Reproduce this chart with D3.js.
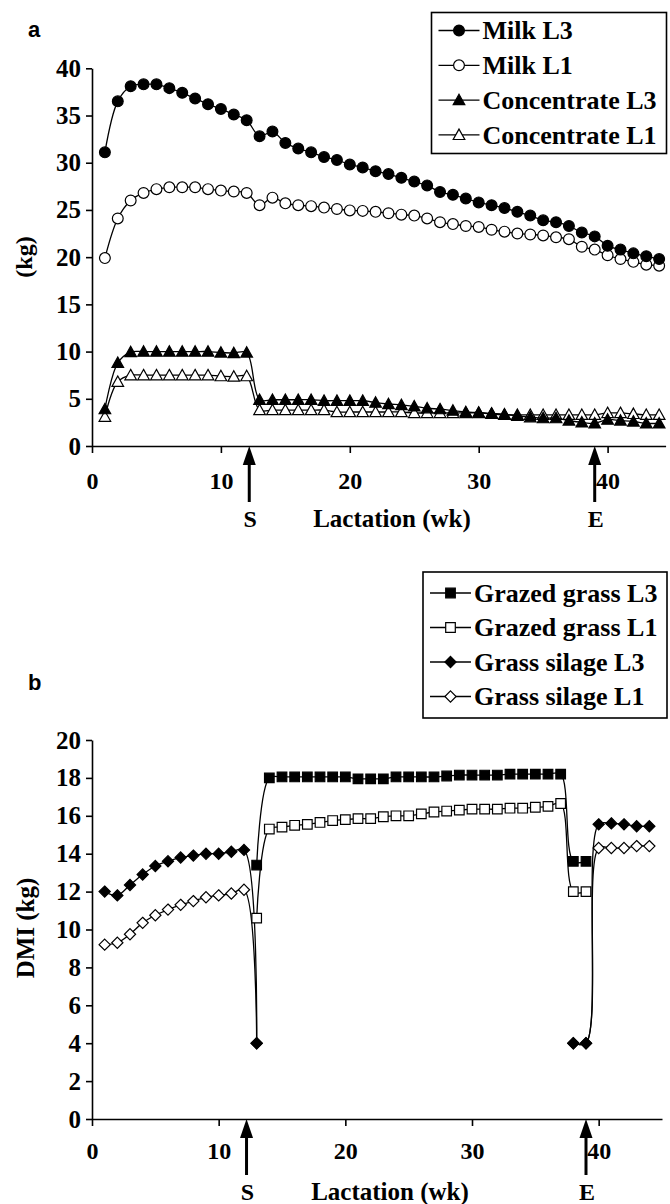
<!DOCTYPE html>
<html>
<head>
<meta charset="utf-8">
<script src="https://cdn.jsdelivr.net/npm/d3@7"></script>
<style>
  body { margin: 0; background: #fff; }
  svg text { font-family: "Liberation Serif", "Times New Roman", serif; font-weight: bold; fill: #000; }
</style>
</head>
<body>
<script>
// lactation week (x categories), same for both panels
const weeks = [1,2,3,4,5,6,7,8,9,10,11,12,13,14,15,16,17,18,19,20,21,22,
               23,24,25,26,27,28,29,30,31,32,33,34,35,36,37,38,39,40,41,42,43,44];

// panel a (kg)
const milkL3 = [31.1,36.5,38.1,38.3,38.3,37.9,37.4,36.8,36.2,35.7,35.1,34.5,32.8,33.3,32.1,31.5,31.1,30.6,30.3,29.8,29.5,29.1,
                28.8,28.4,28.0,27.6,26.9,26.6,26.2,25.8,25.5,25.2,24.8,24.4,23.9,23.7,23.3,22.6,22.2,21.2,20.8,20.4,20.1,19.8];
const milkL1 = [19.9,24.1,26.0,26.8,27.2,27.4,27.4,27.4,27.2,27.05,26.95,26.8,25.5,26.3,25.7,25.5,25.4,25.25,25.1,24.95,24.9,24.8,
                24.65,24.5,24.4,24.1,23.7,23.5,23.3,23.2,22.9,22.7,22.5,22.4,22.3,22.1,21.9,21.1,20.8,20.2,19.8,19.5,19.2,19.1];
const concL3 = [3.9,8.8,9.95,10.0,10.0,10.0,10.0,10.0,10.0,9.9,9.85,9.9,4.9,4.9,4.9,4.9,4.9,4.8,4.8,4.8,4.8,4.6,
                4.45,4.35,4.2,4.0,3.9,3.75,3.6,3.55,3.45,3.35,3.2,3.05,2.95,2.95,2.7,2.5,2.4,2.8,2.7,2.6,2.4,2.4];
const concL1 = [3.1,6.8,7.5,7.5,7.5,7.5,7.5,7.5,7.5,7.4,7.35,7.4,3.8,3.8,3.8,3.8,3.8,3.8,3.6,3.6,3.6,3.6,
                3.6,3.6,3.5,3.5,3.5,3.5,3.5,3.5,3.4,3.3,3.3,3.3,3.3,3.3,3.3,3.3,3.3,3.5,3.5,3.4,3.3,3.3];

// panel b DMI (kg), null = not fed that week
const grazedL3 = [null,null,null,null,null,null,null,null,null,null,null,null,13.4,18.0,18.05,18.05,18.05,18.05,18.05,18.05,17.95,17.95,
                  17.95,18.05,18.05,18.05,18.05,18.1,18.15,18.15,18.15,18.15,18.2,18.2,18.2,18.2,18.2,13.6,13.6,null,null,null,null,null];
const grazedL1 = [null,null,null,null,null,null,null,null,null,null,null,null,10.6,15.3,15.4,15.5,15.55,15.65,15.75,15.8,15.85,15.85,
                  15.95,16.0,16.0,16.1,16.2,16.25,16.3,16.35,16.35,16.35,16.4,16.4,16.45,16.5,16.65,12.0,12.0,null,null,null,null,null];
const silageL3 = [12.0,11.8,12.35,12.9,13.35,13.6,13.8,13.9,14.0,14.0,14.1,14.2,4.0,null,null,null,null,null,null,null,null,null,
                  null,null,null,null,null,null,null,null,null,null,null,null,null,null,null,4.0,4.0,15.55,15.6,15.55,15.45,15.45];
const silageL1 = [9.2,9.3,9.75,10.35,10.75,11.05,11.3,11.5,11.7,11.8,11.9,12.1,4.0,null,null,null,null,null,null,null,null,null,
                  null,null,null,null,null,null,null,null,null,null,null,null,null,null,null,4.0,4.0,14.3,14.3,14.3,14.4,14.4];

const xTicks = [0,10,20,30,40];
const yTicksA = [0,5,10,15,20,25,30,35,40];
const yTicksB = [0,2,4,6,8,10,12,14,16,18,20];
const arrowWeeks = [12.2, 39];
const arrowLabels = ['S','E'];

const W = 670, H = 1204;
const svg = d3.select('body').append('svg').attr('width', W).attr('height', H);

// marker shapes as path strings
function marker(shape) {
  if (shape === 'circle') return 'M5.4,0A5.4,5.4 0 1 1 -5.4,0A5.4,5.4 0 1 1 5.4,0Z';
  if (shape === 'triangle') return 'M0,-5.8L5.8,4.6L-5.8,4.6Z';
  if (shape === 'square') return 'M-4.8,-4.8h9.6v9.6h-9.6Z';
  return 'M0,-5.6L5.6,0L0,5.6L-5.6,0Z'; // diamond
}

function drawPanel(cfg) {
  const g = svg.append('g');
  const x = d3.scaleLinear().domain([0, cfg.xMax]).range([92, cfg.xRight]);
  const y = d3.scaleLinear().domain([0, cfg.yMax]).range([cfg.yBottom, cfg.yTop]);

  // axes
  const xAx = g.append('g').attr('transform', `translate(0,${cfg.yBottom})`)
    .call(d3.axisBottom(x).tickValues(xTicks).tickSize(7).tickSizeOuter(0).tickPadding(cfg.xPad));
  const yAx = g.append('g').attr('transform', 'translate(92,0)')
    .call(d3.axisLeft(y).tickValues(cfg.yTicks).tickSize(6).tickSizeOuter(0).tickPadding(5));
  [xAx, yAx].forEach(a => {
    a.selectAll('path,line').attr('stroke', '#000').attr('stroke-width', 1.6);
    a.selectAll('text').attr('font-size', 24).attr('fill', '#000')
      .attr('font-family', '"Liberation Serif", serif').attr('font-weight', 'bold');
  });
  yAx.selectAll('text').attr('font-size', 25);

  // series, drawn last-legend-entry first so filled markers sit on top
  const line = d3.line()
    .defined(d => d.v != null)
    .x(d => x(d.w)).y(d => y(d.v))
    .curve(d3.curveCatmullRom.alpha(0.5));

  cfg.series.slice().reverse().forEach(s => {
    const pts = weeks.map((w, i) => ({w: w, v: s.values[i]}));
    g.append('path').datum(pts).attr('d', line)
      .attr('fill', 'none').attr('stroke', '#000').attr('stroke-width', 1.3);
    g.selectAll(null).data(pts.filter(d => d.v != null)).enter().append('path')
      .attr('d', marker(s.shape))
      .attr('transform', d => `translate(${x(d.w)},${y(d.v)})`)
      .attr('fill', s.filled ? '#000' : '#fff')
      .attr('stroke', '#000').attr('stroke-width', 1.2);
  });

  // S / E arrows under the x axis
  arrowWeeks.forEach((w, i) => {
    const ax = x(w);
    g.append('line').attr('x1', ax).attr('x2', ax)
      .attr('y1', cfg.yBottom + 12).attr('y2', cfg.yBottom + cfg.arrowLen)
      .attr('stroke', '#000').attr('stroke-width', 3);
    g.append('path')
      .attr('d', `M${ax},${cfg.yBottom}L${ax + 6.5},${cfg.yBottom + 19}L${ax - 6.5},${cfg.yBottom + 19}Z`)
      .attr('fill', '#000');
    g.append('text').attr('x', ax + 1).attr('y', cfg.yBottom + cfg.arrowLen + 25)
      .attr('text-anchor', 'middle').attr('font-size', 24).text(arrowLabels[i]);
  });

  // axis titles
  g.append('text').attr('x', cfg.xTitleX).attr('y', cfg.yBottom + cfg.arrowLen + 25)
    .attr('text-anchor', 'middle').attr('font-size', 25).text('Lactation (wk)');
  g.append('text')
    .attr('transform', `translate(${cfg.yTitleX},${cfg.yTitleY}) rotate(-90)`)
    .attr('text-anchor', 'middle').attr('dy', '0.35em')
    .attr('font-size', cfg.yTitleSize).text(cfg.yTitle);

  // panel letter
  g.append('text').attr('x', 28).attr('y', cfg.letterY)
    .style('font-family', '"Liberation Sans", Arial, sans-serif')
    .attr('font-size', 22).text(cfg.letter);

  // legend
  const L = cfg.legend;
  g.append('rect').attr('x', L.x).attr('y', L.y).attr('width', L.w).attr('height', L.h)
    .attr('fill', '#fff').attr('stroke', '#000').attr('stroke-width', 1.6);
  cfg.series.forEach((s, i) => {
    const cy = L.y + L.first + i * L.step;
    g.append('line').attr('x1', L.x + 7).attr('x2', L.x + 48).attr('y1', cy).attr('y2', cy)
      .attr('stroke', '#000').attr('stroke-width', 1.3);
    g.append('path').attr('d', marker(s.shape))
      .attr('transform', `translate(${L.x + 27.5},${cy})`)
      .attr('fill', s.filled ? '#000' : '#fff').attr('stroke', '#000').attr('stroke-width', 1.2);
    g.append('text').attr('x', L.x + 51).attr('y', cy).attr('dy', '0.34em')
      .attr('font-size', 26).text(s.name);
  });
}

drawPanel({
  letter: 'a', letterY: 37,
  xMax: 44.5, xRight: 665.6, xPad: 19,
  yMax: 40, yTop: 68.3, yBottom: 446, yTicks: yTicksA,
  arrowLen: 56, xTitleX: 392,
  yTitle: '(kg)', yTitleX: 24, yTitleY: 257, yTitleSize: 24,
  legend: {x: 431.5, y: 12.5, w: 235, h: 141, first: 18, step: 34.8},
  series: [
    {name: 'Milk L3', values: milkL3, shape: 'circle', filled: true},
    {name: 'Milk L1', values: milkL1, shape: 'circle', filled: false},
    {name: 'Concentrate L3', values: concL3, shape: 'triangle', filled: true},
    {name: 'Concentrate L1', values: concL1, shape: 'triangle', filled: false}
  ]
});

drawPanel({
  letter: 'b', letterY: 690,
  xMax: 45, xRight: 662, xPad: 16,
  yMax: 20, yTop: 740, yBottom: 1119, yTicks: yTicksB,
  arrowLen: 56, xTitleX: 390,
  yTitle: 'DMI (kg)', yTitleX: 25, yTitleY: 928, yTitleSize: 25,
  legend: {x: 423, y: 572, w: 244, h: 146, first: 21, step: 34.5},
  series: [
    {name: 'Grazed grass L3', values: grazedL3, shape: 'square', filled: true},
    {name: 'Grazed grass L1', values: grazedL1, shape: 'square', filled: false},
    {name: 'Grass silage L3', values: silageL3, shape: 'diamond', filled: true},
    {name: 'Grass silage L1', values: silageL1, shape: 'diamond', filled: false}
  ]
});
</script>
</body>
</html>
